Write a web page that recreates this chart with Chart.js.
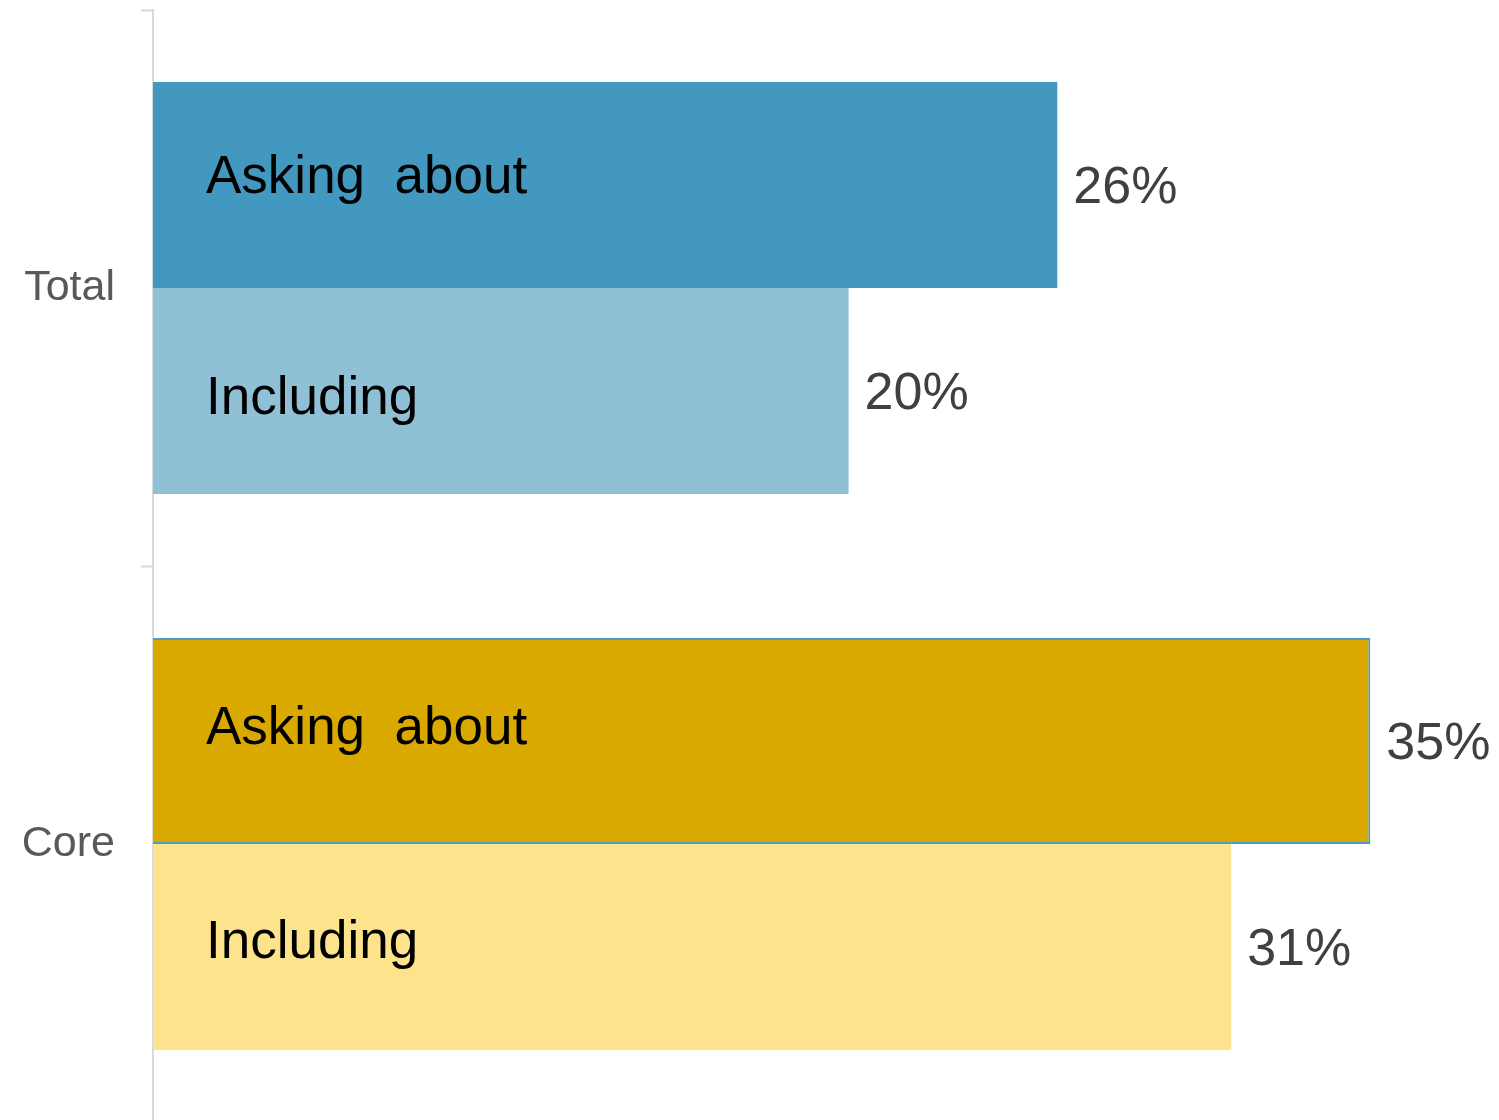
<!DOCTYPE html>
<html>
<head>
<meta charset="utf-8">
<script src="https://cdn.jsdelivr.net/npm/chart.js@4"></script>
<style>
  html, body { margin: 0; padding: 0; background: #fff; overflow: hidden; }
</style>
</head>
<body>
<canvas id="chart" width="1499" height="1132"></canvas>
<script>
// categories and series
const groups = ["Total", "Core"];
const seriesNames = ["Asking  about", "Including"];
const askingAbout = [26, 35];
const including = [20, 31];

// colours per group (blue for Total, gold for Core)
const askingColors = ["#4398C0", "#D9A900"];
const includingColors = ["#8FC0D6", "#FDE48C"];

const FONT = "'Liberation Sans', Arial, sans-serif";

// writes the series name inside each bar and the value just past its end
const barLabels = {
    id: "barLabels",
    afterDatasetsDraw(chart) {
        const ctx = chart.ctx;
        const left = chart.chartArea.left;
        // small vertical nudges for the inside names
        const nameShift = [[-7, 8], [-12, -4]];
        ctx.save();
        chart.data.datasets.forEach((ds, di) => {
            const meta = chart.getDatasetMeta(di);
            meta.data.forEach((bar, i) => {
                ctx.textBaseline = "middle";
                ctx.textAlign = "left";

                ctx.fillStyle = "#000";
                ctx.font = "53px " + FONT;
                ctx.fillText(ds.label, left + 53, bar.y + nameShift[i][di]);

                ctx.fillStyle = "#404040";
                ctx.font = "52px " + FONT;
                ctx.fillText(ds.data[i] + "%", bar.x + 16, bar.y + 4);
            });
        });
        ctx.restore();
    }
};

new Chart(document.getElementById("chart"), {
    type: "bar",
    data: {
        labels: groups,
        datasets: [
            {
                label: seriesNames[0],
                data: askingAbout,
                backgroundColor: askingColors,
                borderColor: ["#4398C0", "#4A9CC4"],
                borderWidth: [0, 2],
                borderSkipped: "left"
            },
            {
                label: seriesNames[1],
                data: including,
                backgroundColor: includingColors,
                borderWidth: 0
            }
        ]
    },
    options: {
        indexAxis: "y",
        responsive: false,
        animation: false,
        layout: { padding: { top: 10, bottom: 10, left: 0, right: 0 } },
        categoryPercentage: 0.741,
        barPercentage: 1.0,
        plugins: {
            legend: { display: false },
            tooltip: { enabled: false }
        },
        scales: {
            x: {
                display: false,
                min: 0,
                max: 38.7
            },
            y: {
                afterFit(scale) {
                    scale.width = 153;
                    scale.paddingTop = 0;
                    scale.paddingBottom = 0;
                },
                grid: {
                    offset: true,
                    drawOnChartArea: false,
                    tickLength: 12,
                    tickWidth: 2,
                    tickColor: "#D9D9D9"
                },
                border: { display: true, color: "#D9D9D9", width: 2 },
                ticks: {
                    color: "#595959",
                    padding: 26,
                    font: { size: 43, family: FONT, lineHeight: 0.1 }
                }
            }
        }
    },
    plugins: [barLabels]
});
</script>
</body>
</html>
